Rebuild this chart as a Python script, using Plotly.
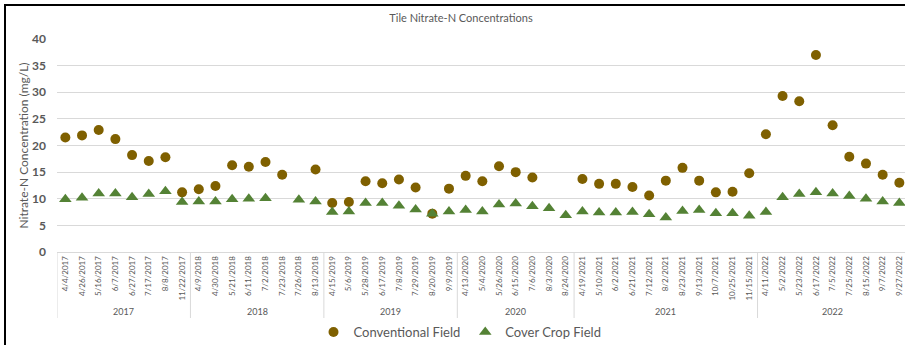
import plotly.graph_objects as go

years = ["2017", "2018", "2019", "2020", "2021", "2022"]
year_counts = [8, 8, 8, 7, 11, 9]
dates = [
    "4/4/2017", "4/26/2017", "5/16/2017", "6/7/2017", "6/27/2017", "7/17/2017", "8/8/2017", "11/22/2017",
    "4/9/2018", "4/30/2018", "5/21/2018", "6/11/2018", "7/2/2018", "7/23/2018", "7/26/2018", "8/13/2018",
    "4/15/2019", "5/6/2019", "5/28/2019", "6/17/2019", "7/8/2019", "7/29/2019", "8/20/2019", "9/9/2019",
    "4/13/2020", "5/4/2020", "5/26/2020", "6/15/2020", "7/6/2020", "8/3/2020", "8/24/2020",
    "4/19/2021", "5/10/2021", "6/2/2021", "6/21/2021", "7/12/2021", "8/2/2021", "8/23/2021", "9/13/2021",
    "10/7/2021", "10/25/2021", "11/15/2021",
    "4/11/2022", "5/2/2022", "5/23/2022", "6/17/2022", "7/5/2022", "7/25/2022", "8/15/2022", "9/7/2022", "9/27/2022",
]
conventional = [
    21.5, 21.9, 22.9, 21.2, 18.2, 17.1, 17.8, 11.2,
    11.8, 12.4, 16.3, 16.0, 16.9, 14.5, None, 15.5,
    9.2, 9.4, 13.3, 12.9, 13.6, 12.1, 7.2, 11.9,
    14.3, 13.3, 16.1, 15.0, 14.0, None, None,
    13.7, 12.8, 12.8, 12.2, 10.6, 13.4, 15.8, 13.4, 11.2, 11.3, 14.8,
    22.1, 29.3, 28.3, 37.0, 23.8, 17.9, 16.6, 14.5, 13.0,
]
cover_crop = [
    9.9, 10.2, 11.0, 11.0, 10.3, 10.9, 11.4, 9.4,
    9.5, 9.5, 9.9, 10.0, 10.1, None, 9.8, 9.5,
    7.5, 7.6, 9.2, 9.2, 8.7, 8.0, 7.2, 7.6,
    7.9, 7.6, 8.9, 9.1, 8.6, 8.2, 6.9,
    7.6, 7.4, 7.4, 7.5, 7.1, 6.5, 7.7, 7.9, 7.3, 7.3, 6.8,
    7.5, 10.3, 10.9, 11.2, 11.0, 10.5, 10.0, 9.5, 9.2,
]

FONT = "Lato, 'Open Sans', sans-serif"
GREY = "#595959"
LIGHT = "#D9D9D9"

fig = go.Figure()
fig.add_trace(go.Scatter(
    x=dates, y=conventional, mode="markers", name="Conventional Field",
    marker=dict(symbol="circle", size=10, color="#7F6000"),
))
fig.add_trace(go.Scatter(
    x=dates, y=cover_crop, mode="markers", name="Cover Crop Field",
    marker=dict(symbol="triangle-up", size=11, color="#548235"),
))

W, H = 905, 345
ml, mr, mt, mb = 57, 0, 39, 93
pw = W - ml - mr
ph = H - mt - mb
step = 16.68

fig.update_layout(
    width=W, height=H,
    margin=dict(l=ml, r=mr, t=mt, b=mb, autoexpand=False),
    paper_bgcolor="white", plot_bgcolor="white",
    font=dict(family=FONT, color=GREY),
    title=dict(text="Tile Nitrate-N Concentrations", x=(461 - ml) / pw, xref="paper", xanchor="center",
               y=(H - 18) / H, yanchor="middle", font=dict(size=11, color=GREY)),
    showlegend=True,
    legend=dict(orientation="h", x=(460 - ml) / pw, xanchor="center", y=(252 - 332) / ph, yanchor="middle",
                font=dict(size=13, color=GREY), itemwidth=30, bgcolor="rgba(0,0,0,0)"),
    xaxis=dict(
        type="category", range=[-0.5, -0.5 + pw / step], automargin=False,
        tickangle=-90, tickfont=dict(size=8, color=GREY),
        showline=True, linecolor=LIGHT, linewidth=1,
        showgrid=False, ticks="",
    ),
    yaxis=dict(
        range=[0, 40], dtick=5, tick0=0, automargin=False,
        showgrid=True, gridcolor=LIGHT, gridwidth=1,
        zeroline=False, showline=False,
        tickfont=dict(size=12, color=GREY, weight="bold"),
        ticklabelstandoff=10,
        title=dict(text="Nitrate-N Concentration (mg/L)", font=dict(size=12, color=GREY), standoff=0),
    ),
)

# year group labels and dividers
y_year = (252 - 311) / ph
y_div = (252 - 318) / ph
start = 0
fig.add_shape(type="line", xref="x", yref="paper", x0=-0.5, x1=-0.5, y0=0, y1=y_div,
              line=dict(color=LIGHT, width=1))
for yr, n in zip(years, year_counts):
    end = start + n
    fig.add_annotation(x=(start + end - 1) / 2, y=y_year, xref="x", yref="paper", text=yr,
                       showarrow=False, font=dict(size=9, color=GREY), yanchor="middle")
    fig.add_shape(type="line", xref="x", yref="paper", x0=end - 0.5, x1=end - 0.5, y0=0, y1=y_div,
                  line=dict(color=LIGHT, width=1))
    start = end

# page frame (top and left edges visible, like the reference's border)
frame_js = (
    "document.body.style.margin='0';document.body.style.overflow='hidden';"
    "var d=document.createElement('div');"
    "d.style.cssText='position:fixed;left:4px;top:4px;width:3000px;height:3000px;"
    "border-left:2px solid #000;border-top:2px solid #000;pointer-events:none;z-index:10;';"
    "document.body.appendChild(d);"
)

fig.write_html("out.html", config={"displayModeBar": False}, post_script=frame_js)
